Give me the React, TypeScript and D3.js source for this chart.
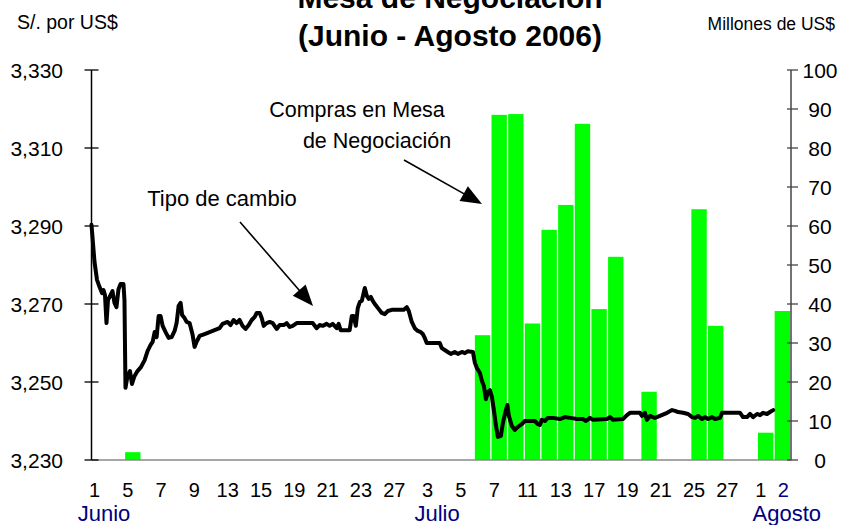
import React from "react";
import * as d3 from "d3";

// Trading days (June 1 – August 2, 2006)
const days: string[] = [
  "1","2","5","6","7","8","9","12","13","14","15","16","19","20","21","22","23","26","27","30",
  "3","4","5","6","7","10","11","12","13","14","17","18","19","20","21","24","25","26","27","31",
  "1","2",
];

// Compras en Mesa de Negociación (millones de US$), one per trading day
const compras: number[] = [
  0, 0, 2, 0, 0, 0, 0, 0, 0, 0, 0, 0, 0, 0, 0, 0, 0, 0, 0, 0,
  0, 0, 0, 32, 88.5, 88.7, 35, 59, 65.4, 86.2, 38.7, 52.1, 0, 17.5, 0, 0, 64.3, 34.4, 0, 0,
  7, 38.2,
];

// Tipo de cambio (S/. por US$): [posición en días hábiles, valor]
const tipoCambio: [number, number][] = [
  [0, 3290.3],[0.18, 3280.8],[0.33, 3276.2],[0.48, 3274.4],[0.63, 3272.8],[0.72, 3273.6],[0.81, 3272.3],
  [0.9, 3265.1],[0.99, 3271.0],[1.14, 3272.3],[1.26, 3273.3],[1.38, 3270.3],[1.5, 3269.2],[1.62, 3273.8],
  [1.74, 3275.1],[1.92, 3275.1],[1.98, 3271.0],[2.04, 3248.5],[2.16, 3251.5],[2.31, 3252.8],[2.43, 3249.5],
  [2.58, 3251.5],[2.76, 3252.8],[2.97, 3253.8],[3.19, 3255.6],[3.37, 3258.0],[3.55, 3259.5],[3.67, 3260.3],
  [3.79, 3262.8],[3.91, 3261.5],[4.03, 3266.9],[4.15, 3266.9],[4.27, 3264.4],[4.45, 3262.8],[4.63, 3261.3],
  [4.81, 3261.5],[4.99, 3263.1],[5.11, 3265.1],[5.23, 3269.5],[5.35, 3270.3],[5.44, 3267.2],[5.59, 3266.4],
  [5.71, 3265.4],[5.89, 3265.1],[6.07, 3262.1],[6.19, 3259.0],[6.31, 3260.3],[6.49, 3261.8],[6.79, 3262.3],
  [7.09, 3262.8],[7.39, 3263.3],[7.69, 3263.8],[7.87, 3264.9],[8.17, 3265.4],[8.35, 3264.6],[8.53, 3265.9],
  [8.71, 3265.1],[8.89, 3265.9],[9.07, 3264.4],[9.25, 3263.6],[9.44, 3264.6],[9.62, 3265.9],[9.8, 3266.7],
  [9.92, 3267.7],[10.1, 3267.7],[10.22, 3266.4],[10.34, 3264.4],[10.52, 3265.1],[10.7, 3265.4],[10.88, 3265.1],
  [11.12, 3263.6],[11.3, 3264.6],[11.54, 3264.6],[11.72, 3265.1],[11.9, 3264.1],[12.08, 3264.4],[12.32, 3265.1],
  [13.28, 3265.1],[13.52, 3263.8],[13.7, 3264.6],[13.88, 3264.4],[14.12, 3264.9],[14.3, 3264.4],[14.48, 3264.9],
  [14.72, 3263.8],[14.84, 3264.9],[14.96, 3263.3],[15.5, 3263.3],[15.63, 3266.9],[15.75, 3266.9],[15.87, 3264.4],
  [15.99, 3269.0],[16.11, 3270.5],[16.23, 3270.8],[16.41, 3274.1],[16.53, 3272.1],[16.65, 3271.3],[16.77, 3271.8],
  [16.89, 3270.8],[17.01, 3270.0],[17.19, 3269.0],[17.43, 3267.7],[17.61, 3267.4],[17.79, 3268.2],[18.03, 3268.5],
  [18.75, 3268.5],[18.93, 3269.2],[19.05, 3268.2],[19.23, 3265.4],[19.41, 3263.8],[19.59, 3263.1],[19.77, 3262.8],
  [19.89, 3262.3],[20.01, 3261.3],[20.13, 3260.0],[20.91, 3260.0],[21.03, 3258.7],[21.21, 3258.2],[21.39, 3257.7],
  [21.57, 3257.2],[21.81, 3257.7],[22.0, 3257.2],[22.24, 3257.7],[22.42, 3257.4],[22.6, 3257.9],[22.9, 3257.7],
  [23.02, 3254.9],[23.14, 3253.6],[23.32, 3252.3],[23.44, 3250.3],[23.56, 3249.0],[23.68, 3245.6],[23.8, 3247.4],
  [23.92, 3247.9],[24.04, 3246.2],[24.16, 3242.8],[24.28, 3239.0],[24.4, 3235.9],[24.58, 3236.2],[24.7, 3239.5],
  [24.88, 3242.8],[24.97, 3244.1],[25.06, 3241.3],[25.24, 3238.7],[25.42, 3237.7],[25.6, 3238.5],[25.84, 3239.2],
  [26.02, 3240.0],[26.62, 3240.0],[26.8, 3239.2],[26.92, 3239.0],[27.04, 3240.3],[27.22, 3240.0],[27.4, 3240.8],
  [27.7, 3240.8],[28.12, 3240.5],[28.43, 3241.0],[28.73, 3240.8],[29.15, 3240.5],[29.51, 3240.5],[29.69, 3240.0],
  [29.93, 3240.8],[30.11, 3240.3],[30.95, 3240.5],[31.13, 3241.0],[31.31, 3240.3],[31.91, 3240.5],[32.15, 3241.5],
  [32.33, 3242.1],[32.93, 3242.1],[33.05, 3241.3],[33.23, 3242.1],[33.35, 3240.3],[33.53, 3241.3],[33.83, 3240.8],
  [34.13, 3241.3],[34.56, 3242.1],[34.86, 3242.8],[35.04, 3242.6],[35.22, 3242.3],[35.52, 3242.1],[35.82, 3241.8],
  [36.06, 3241.0],[36.24, 3240.8],[36.42, 3241.3],[36.66, 3240.5],[36.84, 3241.0],[37.02, 3240.5],[37.26, 3241.0],
  [37.44, 3240.5],[37.74, 3240.8],[37.86, 3242.1],[38.94, 3242.1],[39.12, 3241.0],[39.36, 3241.0],[39.54, 3241.8],
  [39.72, 3241.0],[39.96, 3241.8],[40.14, 3241.5],[40.32, 3242.1],[40.56, 3241.8],[40.74, 3242.3],[40.93, 3242.8],
];

const leftTicks: number[] = [3230, 3250, 3270, 3290, 3310, 3330];
const rightTicks: number[] = [0, 10, 20, 30, 40, 50, 60, 70, 80, 90, 100];
const months: { name: string; idx: number }[] = [
  { name: "Junio", idx: 0 },
  { name: "Julio", idx: 20 },
  { name: "Agosto", idx: 41 },
];

const FONT = "'Liberation Sans', Arial, Helvetica, sans-serif";

function Arrow({ x1, y1, x2, y2 }: { x1: number; y1: number; x2: number; y2: number }) {
  const dx = x2 - x1, dy = y2 - y1;
  const L = Math.hypot(dx, dy);
  const ux = dx / L, uy = dy / L;
  const hl = 21, hw = 8.5;
  const bx = x2 - ux * hl, by = y2 - uy * hl;
  const nx = -uy, ny = ux;
  const pts = [
    [x2, y2],
    [bx + nx * hw, by + ny * hw],
    [bx - nx * hw, by - ny * hw],
  ].map((p) => p.join(",")).join(" ");
  return (
    <g>
      <line x1={x1} y1={y1} x2={bx + ux * 2} y2={by + uy * 2} stroke="#000" strokeWidth={1.6} />
      <polygon points={pts} fill="#000" />
    </g>
  );
}

export default function App() {
  const W = 852, H = 525;
  const X0 = 91.5, X1 = 791, YT = 70, YB = 460;
  const idx = d3.range(days.length);
  const xBand = d3.scaleBand<number>().domain(idx).range([X0, X1]).padding(0);
  const xPos = d3.scaleLinear().domain([0, days.length]).range([X0, X1]);
  const yL = d3.scaleLinear().domain([3230, 3330]).range([YB, YT]);
  const yR = d3.scaleLinear().domain([0, 100]).range([YB, YT]);
  const fmt = d3.format(",");
  const linePath = d3
    .line<[number, number]>()
    .x((d) => xPos(d[0]))
    .y((d) => yL(d[1]))(tipoCambio) as string;
  const bw = xBand.bandwidth();

  return (
    <svg
      width={W}
      height={H}
      viewBox={`0 0 ${W} ${H}`}
      style={{ position: "absolute", left: 0, top: 0, background: "#fff" }}
      fontFamily={FONT}
    >
      <rect x={0} y={0} width={W} height={H} fill="#fff" />
      {/* Title */}
      <text x={450} y={8} textAnchor="middle" fontSize={30} fontWeight="bold" fill="#000">
        Mesa de Negociación
      </text>
      <text x={450} y={46} textAnchor="middle" fontSize={30} fontWeight="bold" fill="#000">
        (Junio - Agosto 2006)
      </text>
      <text x={17} y={29} fontSize={19.5} fill="#000">S/. por US$</text>
      <text x={835} y={30} textAnchor="end" fontSize={17.5} fill="#000">Millones de US$</text>

      {/* Bars */}
      {compras.map((v, i) =>
        v > 0 ? (
          <rect
            key={i}
            x={(xBand(i) as number) + 0.3}
            y={yR(v)}
            width={bw - 1.3}
            height={yR(0) - yR(v)}
            fill="#00FF00"
          />
        ) : null
      )}

      {/* X axis line */}
      <line x1={X0} x2={X1} y1={YB} y2={YB} stroke="#888" strokeWidth={1.5} />

      {/* Exchange rate line */}
      <path d={linePath} fill="none" stroke="#000" strokeWidth={4} strokeLinejoin="round" strokeLinecap="round" />

      {/* Left axis */}
      <line x1={X0} x2={X0} y1={YT} y2={YB} stroke="#000" strokeWidth={1.5} />
      {leftTicks.map((t) => (
        <g key={t}>
          <line x1={X0 - 7} x2={X0 + 7} y1={yL(t)} y2={yL(t)} stroke="#000" strokeWidth={1.3} />
          <text x={63} y={yL(t)} dy="0.36em" textAnchor="end" fontSize={21} fill="#000">
            {fmt(t)}
          </text>
        </g>
      ))}

      {/* Right axis */}
      <line x1={X1} x2={X1} y1={YT} y2={YB} stroke="#444" strokeWidth={1.5} />
      {rightTicks.map((t) => (
        <g key={t}>
          <line x1={X1 - 4} x2={X1 + 7} y1={yR(t)} y2={yR(t)} stroke="#444" strokeWidth={1.3} />
          <text x={820} y={yR(t)} dy="0.36em" textAnchor="middle" fontSize={21} fill="#000">
            {t}
          </text>
        </g>
      ))}

      {/* X tick labels */}
      {days.map((d, i) =>
        i % 2 === 0 ? (
          <text key={i} x={(xBand(i) as number) + 3} y={497} textAnchor="middle" fontSize={20} fill="#000">
            {d}
          </text>
        ) : null
      )}
      <text x={(xBand(41) as number) + 9} y={497} textAnchor="middle" fontSize={20} fill="#000080">
        {days[41]}
      </text>
      {months.map((m) => (
        <text key={m.name} x={(xBand(m.idx) as number) + 12.5} y={521} textAnchor="middle" fontSize={22} fill="#000080">
          {m.name}
        </text>
      ))}

      {/* Annotations */}
      <text x={357} y={117} textAnchor="middle" fontSize={21.5} fill="#000">Compras en Mesa</text>
      <text x={377} y={148} textAnchor="middle" fontSize={21.5} fill="#000">de Negociación</text>
      <Arrow x1={404} y1={160} x2={482} y2={204} />
      <text x={222} y={206} textAnchor="middle" fontSize={22} fill="#000">Tipo de cambio</text>
      <Arrow x1={240} y1={222} x2={313} y2={306} />
    </svg>
  );
}
